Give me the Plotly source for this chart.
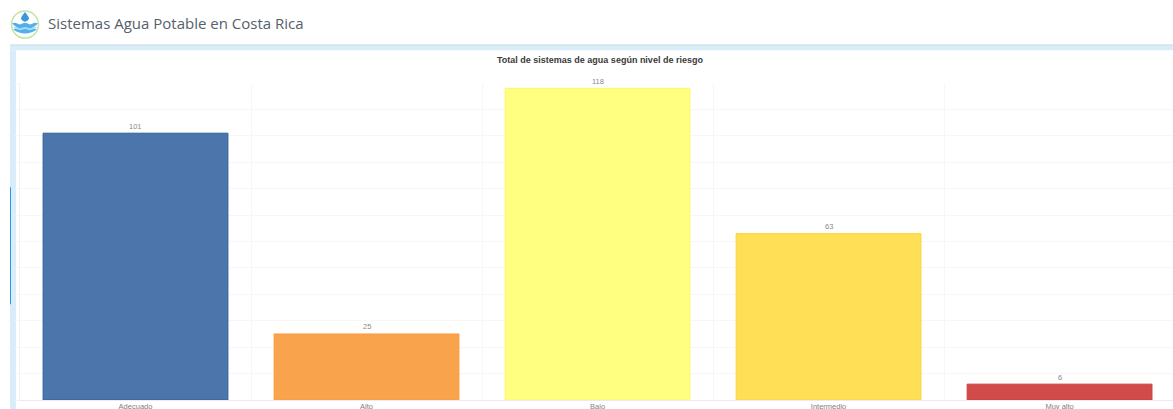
import plotly.graph_objects as go

categories = ["Adecuado", "Alto", "Bajo", "Intermedio", "Muy alto"]
values = [101, 25, 118, 63, 6]
bar_colors = ["#4c76ab", "#f9a34d", "#ffff80", "#ffdf55", "#d14b4b"]
line_colors = ["#2f5f98", "#fb9a3c", "#fdf56a", "#fbd53c", "#d03c3c"]
header_title = "Sistemas Agua Potable en Costa Rica"
chart_title = "Total de sistemas de agua según nivel de riesgo"

W, H = 1173, 409
L, T, B = 20, 82.5, 9
PW, PH = W - L, H - T - B


def px(x):
    return (x - L) / PW


def py(y):
    return (H - B - y) / PH


def rect(x0, y0, x1, y1, color, layer="below"):
    return dict(type="rect", xref="paper", yref="paper", x0=px(x0), x1=px(x1),
                y0=py(y1), y1=py(y0), fillcolor=color, line_width=0, layer=layer)


def circle(cx, cy, r, fill, line=None):
    return dict(type="circle", xref="paper", yref="paper", x0=px(cx - r), x1=px(cx + r),
                y0=py(cy + r), y1=py(cy - r), fillcolor=fill,
                line=dict(color=line or fill, width=1.5 if line else 0), layer="above")


def path(cmds, fill):
    parts = []
    for c, *pts in cmds:
        parts.append(c + " ".join(f"{px(a):.5f},{py(b):.5f}" for a, b in pts))
    return dict(type="path", xref="paper", yref="paper", path=" ".join(parts) + " Z",
                fillcolor=fill, line_width=0, layer="above")


def wave(x0, x1, y, amp, n, bottom, fill):
    step = (x1 - x0) / n
    cmds = [("M", (x0, y))]
    for i in range(n):
        sign = -1 if i % 2 == 0 else 1
        cmds.append(("Q", (x0 + (i + 0.5) * step, y + sign * amp), (x0 + (i + 1) * step, y)))
    cmds.append(("Q", ((x0 + x1) / 2, bottom + (bottom - y) * 0.6), (x0, y)))
    return path(cmds, fill)


shapes = [
    rect(10, 44, W, 50, "#d9ecf9"),
    rect(10, 44, W, 45, "#cfdde6"),
    rect(10, 50, 16, H, "#d9ecf9"),
    rect(10, 187, 11, 304, "#2f95dc"),
    rect(16, 50, W, H, "#ffffff"),
    circle(25, 24, 13.5, "#ffffff", "#c2e4a8"),
    wave(12, 38, 23, 1.6, 5, 31, "#4fb0ea"),
    wave(13, 37, 27, 1.2, 5, 33, "#a5d9f6"),
    wave(13, 37, 29, 1.2, 5, 34, "#4fb0ea"),
    path([("M", (25, 11.5)), ("Q", (20.5, 17), (21, 18.5)), ("Q", (25, 24), (29, 18.5)),
          ("Q", (29.5, 17), (25, 11.5))], "#3f97d8"),
]

annotations = [
    dict(text=header_title, xref="paper", yref="paper", x=px(46), y=py(22.5), xanchor="left",
         yanchor="middle", showarrow=False,
         font=dict(family="Open Sans", size=15, color="#55606a")),
    dict(text=f"<b>{chart_title}</b>", xref="paper", yref="paper", x=px(600), y=py(59),
         xanchor="center", yanchor="middle", showarrow=False,
         font=dict(family="Liberation Sans", size=9, color="#3a3a3a")),
]
for cat, val in zip(categories, values):
    annotations.append(dict(text=str(val), x=cat, y=val, xref="x", yref="y", yshift=7,
                            xanchor="center", yanchor="middle", showarrow=False,
                            font=dict(family="Liberation Sans", size=7.5, color="#8a8a8a")))

fig = go.Figure(
    go.Bar(
        x=categories,
        y=values,
        width=0.8,
        marker=dict(color=bar_colors, line=dict(color=line_colors, width=1)),
        hoverinfo="x+y",
    )
)

fig.update_layout(
    width=W,
    height=H,
    margin=dict(l=L, r=0, t=T, b=B),
    paper_bgcolor="#ffffff",
    plot_bgcolor="#ffffff",
    showlegend=False,
    shapes=shapes,
    annotations=annotations,
    xaxis=dict(
        type="category",
        range=[-0.5, 4.491],
        tickson="boundaries",
        showgrid=True,
        gridcolor="#f7f7f7",
        showline=True,
        linecolor="#ebebeb",
        ticks="",
        ticklabelstandoff=-1,
        tickfont=dict(family="Liberation Sans", size=7.5, color="#808080"),
        automargin=False,
    ),
    yaxis=dict(
        range=[0, 120],
        tick0=0,
        dtick=10,
        showgrid=True,
        gridcolor="#f7f7f7",
        zeroline=False,
        showline=True,
        linecolor="#f2f2f2",
        ticks="outside",
        ticklen=4,
        tickcolor="#f7f7f7",
        showticklabels=False,
    ),
)

fig.write_html(
    "out.html",
    config={"displayModeBar": False},
    post_script="document.body.style.margin='0';document.body.style.overflow='hidden';",
)
